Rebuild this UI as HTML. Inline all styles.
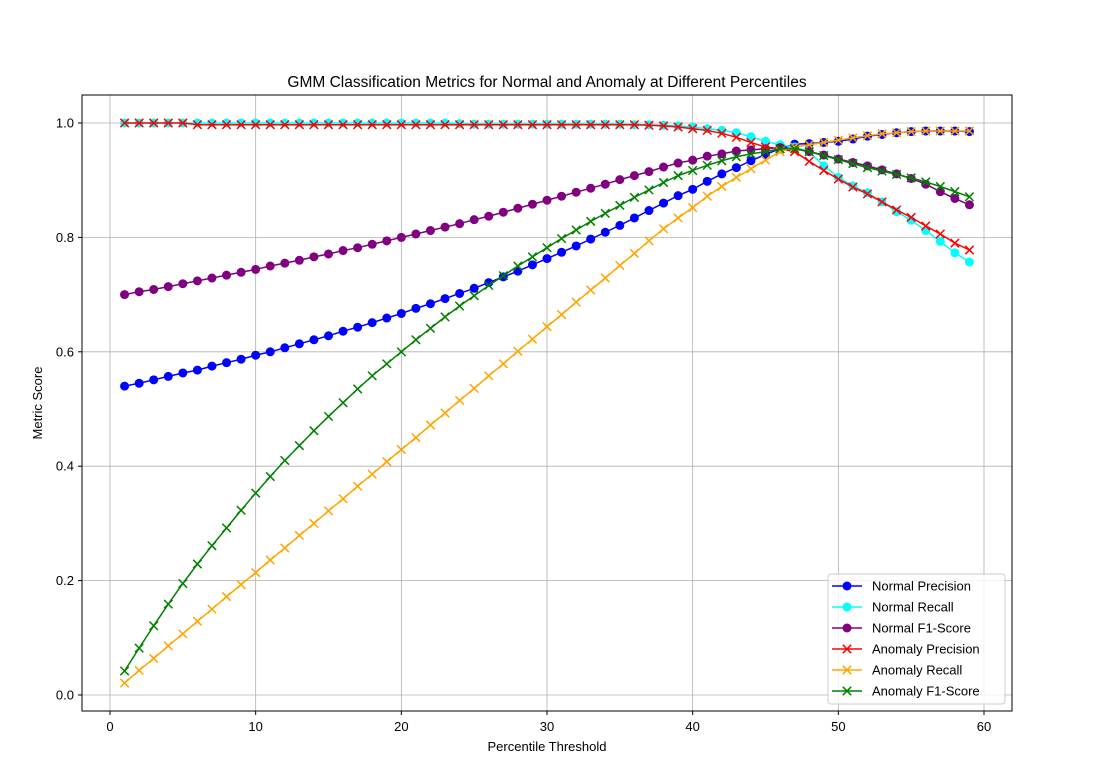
<!DOCTYPE html>
<html><head><meta charset="utf-8"><style>
body{margin:0;background:#fff;}
svg text{font-family:"Liberation Sans","DejaVu Sans",sans-serif;fill:#000;}
</style></head><body>
<svg id="chart" width="1119" height="777" xmlns="http://www.w3.org/2000/svg">
<rect width="1119" height="777" fill="#fff"/>
<g id="grid"></g><g id="series"></g>
<rect x="82" y="95" width="930" height="616" fill="none" stroke="#000" stroke-width="1"/>
<g id="axes"></g>
<text x="547" y="87" font-size="15.5" text-anchor="middle">GMM Classification Metrics for Normal and Anomaly at Different Percentiles</text>
<text x="547" y="751" font-size="13" text-anchor="middle">Percentile Threshold</text>
<text transform="translate(42,403) rotate(-90)" font-size="13" text-anchor="middle">Metric Score</text>
<g id="legend"></g>
</svg>
<script>
const xs=[];for(let i=1;i<=59;i++)xs.push(i);
const normalPrecision=[.540,.545,.551,.557,.563,.568,.575,.581,.587,.594,.600,.607,.614,.621,.628,.636,.643,.651,.659,.667,.676,.684,.693,.702,.711,.721,.731,.741,.752,.763,.774,.785,.797,.809,.821,.834,.847,.860,.873,.884,.898,.911,.922,.934,.945,.955,.963,.964,.966,.968,.972,.977,.980,.983,.985,.986,.986,.986,.985];
const normalRecall=[1,1,1,1,1,1,1,1,1,1,1,1,1,1,1,1,1,1,1,1,1,1,1,.999,.998,.998,.998,.998,.998,.998,.998,.998,.998,.998,.998,.997,.997,.996,.995,.993,.990,.987,.983,.976,.968,.962,.958,.950,.925,.905,.890,.878,.862,.845,.830,.812,.793,.773,.757];
const normalF1=[.700,.705,.709,.714,.719,.724,.729,.734,.739,.744,.750,.755,.760,.766,.771,.777,.782,.788,.794,.800,.806,.812,.818,.824,.831,.837,.844,.851,.858,.865,.872,.879,.886,.893,.901,.908,.915,.923,.930,.935,.942,.946,.951,.953,.955,.957,.955,.950,.944,.937,.931,.925,.918,.911,.903,.893,.880,.868,.857];
const anomalyPrecision=[1,1,1,1,1,.997,.997,.997,.997,.997,.997,.997,.997,.997,.997,.997,.997,.997,.997,.997,.997,.997,.997,.997,.997,.997,.997,.997,.997,.997,.997,.997,.997,.997,.997,.997,.996,.995,.993,.990,.987,.982,.975,.966,.958,.955,.950,.933,.917,.902,.888,.876,.862,.848,.835,.820,.806,.790,.778];
const anomalyRecall=[.021,.043,.064,.086,.107,.129,.150,.172,.193,.214,.236,.257,.279,.300,.322,.343,.365,.386,.408,.429,.450,.472,.493,.515,.536,.558,.579,.601,.622,.644,.665,.687,.708,.729,.751,.772,.794,.815,.834,.852,.872,.889,.905,.920,.935,.950,.958,.962,.966,.970,.974,.978,.981,.983,.985,.986,.986,.986,.986];
const anomalyF1=[.042,.082,.121,.159,.195,.229,.261,.292,.323,.353,.382,.410,.436,.462,.487,.511,.535,.558,.579,.600,.621,.641,.661,.680,.698,.716,.733,.750,.766,.782,.798,.813,.828,.842,.856,.870,.883,.896,.908,.917,.926,.934,.941,.946,.950,.955,.955,.950,.943,.936,.929,.922,.916,.910,.904,.897,.889,.880,.871];
const xTicks=[0,10,20,30,40,50,60];
const yTicks=[0,0.2,0.4,0.6,0.8,1.0];
const seriesNames=["Normal Precision","Normal Recall","Normal F1-Score","Anomaly Precision","Anomaly Recall","Anomaly F1-Score"];
const seriesColors=["#0000ff","#00ffff","#800080","#ff0000","#ffa500","#008000"];
const seriesMarkers=["o","o","o","x","x","x"];
const seriesData=[normalPrecision,normalRecall,normalF1,anomalyPrecision,anomalyRecall,anomalyF1];
const NS="http://www.w3.org/2000/svg";
const X=v=>110+(v-0)*(984-110)/60;
const Y=v=>695-v*572;
function mk(tag,attrs,parent){const e=document.createElementNS(NS,tag);for(const k in attrs)e.setAttribute(k,attrs[k]);parent.appendChild(e);return e;}
const grid=document.getElementById('grid'),axes=document.getElementById('axes');
xTicks.forEach(t=>{const x=X(t);
 const g=mk('line',{x1:x,x2:x,y1:95,y2:711,stroke:'#b0b0b0','stroke-width':0.8},grid);
 
 mk('line',{x1:x,x2:x,y1:711,y2:715,stroke:'#000'},axes);
 const tx=mk('text',{x:x,y:731,'font-size':13,'text-anchor':'middle'},axes);tx.textContent=t;
 });
yTicks.forEach(t=>{const y=Y(t);
 const g=mk('line',{x1:82,x2:1012,y1:y,y2:y,stroke:'#b0b0b0','stroke-width':0.8},grid);
 
 mk('line',{x1:78,x2:82,y1:y,y2:y,stroke:'#000'},axes);
 const tx=mk('text',{x:74,y:y+4.5,'font-size':13,'text-anchor':'end'},axes);tx.textContent=t.toFixed(1);
 });
function marker(type,x,y,c,parent){
 if(type==='o'){return mk('circle',{cx:x,cy:y,r:4.5,fill:c},parent);}
 const g=mk('g',{},parent);const d=4.2;
 mk('line',{x1:x-d,y1:y-d,x2:x+d,y2:y+d,stroke:c,'stroke-width':1.5},g);
 mk('line',{x1:x-d,y1:y+d,x2:x+d,y2:y-d,stroke:c,'stroke-width':1.5},g);return g;}
const sg=document.getElementById('series');
seriesData.forEach((arr,si)=>{
 const g=mk('g',{},sg);
 
 
 const pts=arr.map((v,i)=>X(xs[i])+','+Y(v)).join(' ');
 mk('polyline',{points:pts,fill:'none',stroke:seriesColors[si],'stroke-width':1.5},g);
 arr.forEach((v,i)=>{const m=marker(seriesMarkers[si],X(xs[i]),Y(v),seriesColors[si],g);
  
  });
});
const lg=document.getElementById('legend');
const box=mk('rect',{x:828,y:574,width:177,height:130,rx:3,fill:'#fff','fill-opacity':0.8,stroke:'#ccc'},lg);

seriesNames.forEach((n,i)=>{const y=586+i*21;
 const g=mk('g',{},lg);
 
 
 mk('line',{x1:832,x2:862,y1:y,y2:y,stroke:seriesColors[i],'stroke-width':1.5},g);
 marker(seriesMarkers[i],847,y,seriesColors[i],g);
 const t=mk('text',{x:872,y:y+4.5,'font-size':13},g);t.textContent=n;});
</script>
</body></html>
